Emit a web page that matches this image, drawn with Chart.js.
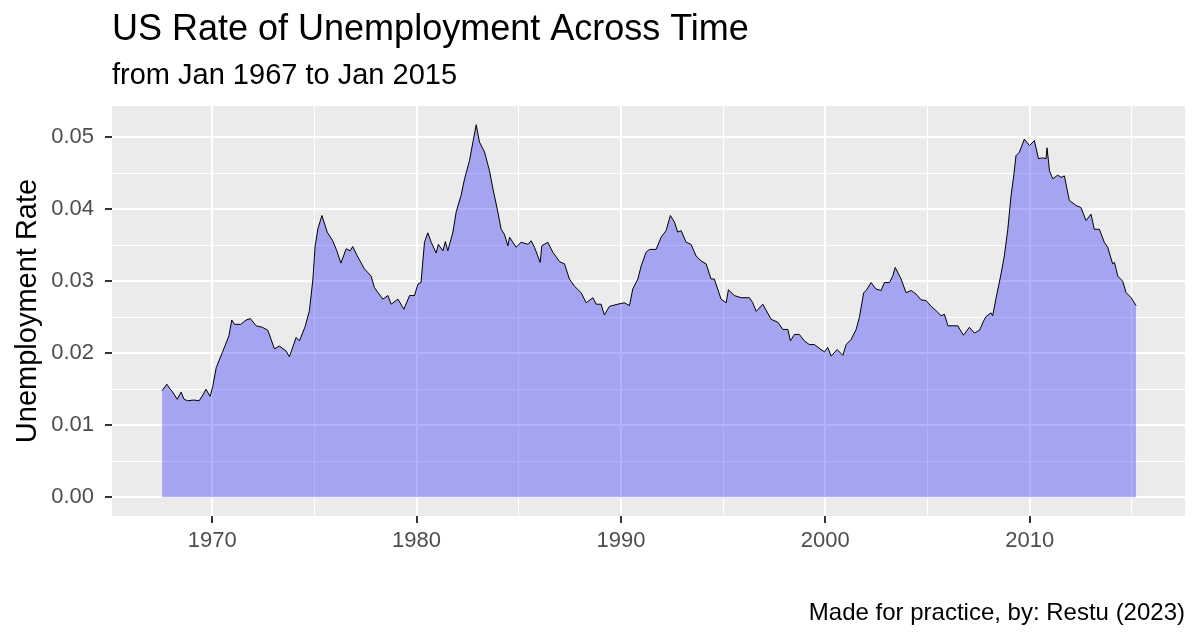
<!DOCTYPE html>
<html>
<head>
<meta charset="utf-8">
<script src="https://cdn.jsdelivr.net/npm/chart.js"></script>
<style>
  body { margin: 0; background: #fff; }
  #wrap { width: 1200px; height: 642px; }
</style>
</head>
<body>
<div id="wrap"><canvas id="myChart"></canvas></div>
<script>
// month position as decimal year
var years = [1967.55,1967.78,1967.95,1968.05,1968.29,1968.48,1968.63,1968.8,1969.1,1969.36,1969.55,1969.7,1969.9,
  1970.03,1970.2,1970.5,1970.82,1970.96,1971.1,1971.4,1971.66,1971.87,1972.15,1972.45,1972.72,1973.05,1973.29,1973.62,1973.78,
  1974.11,1974.27,1974.55,1974.76,1974.93,1975.04,1975.17,1975.37,1975.63,1975.9,1976.1,1976.3,1976.56,1976.75,1976.88,
  1977.1,1977.45,1977.78,1977.94,1978.35,1978.6,1978.76,1979.09,1979.38,1979.66,1979.9,
  1980.07,1980.22,1980.39,1980.55,1980.72,1980.96,1981.07,1981.29,1981.41,1981.53,1981.78,1981.94,1982.18,1982.35,1982.59,1982.76,1982.92,
  1983.08,1983.33,1983.57,1983.74,1983.98,1984.14,1984.3,1984.47,1984.55,1984.87,1985.12,1985.45,1985.61,1985.77,1986.05,1986.13,1986.42,1986.67,
  1987.0,1987.24,1987.48,1987.73,1988.05,1988.3,1988.63,1988.79,1989.03,1989.19,1989.44,1989.85,
  1990.17,1990.42,1990.58,1990.83,1990.99,1991.23,1991.4,1991.72,1991.97,1992.21,1992.42,1992.62,1992.78,1992.95,
  1993.19,1993.43,1993.68,1993.92,1994.17,1994.41,1994.57,1994.9,1995.15,1995.26,1995.55,1995.88,1996.29,1996.45,1996.62,1996.94,
  1997.35,1997.68,1997.92,1998.17,1998.29,1998.49,1998.73,1998.98,1999.22,1999.47,1999.79,1999.96,
  2000.12,2000.29,2000.58,2000.86,2001.02,2001.26,2001.51,2001.67,2001.88,2002.0,2002.24,2002.48,2002.73,2002.89,
  2003.14,2003.3,2003.42,2003.71,2003.95,2004.2,2004.44,2004.69,2004.93,2005.18,2005.42,2005.67,2005.83,2006.0,2006.24,2006.48,2006.76,
  2007.05,2007.3,2007.55,2007.75,2007.87,2008.11,2008.19,2008.36,2008.6,2008.76,2008.93,2009.09,2009.22,2009.33,2009.5,2009.74,2009.99,
  2010.23,2010.43,2010.64,2010.8,2010.85,2010.97,2011.13,2011.37,2011.54,2011.7,2011.94,2012.27,2012.51,2012.76,
  2013.0,2013.16,2013.41,2013.65,2013.82,2014.06,2014.15,2014.31,2014.55,2014.72,2014.96,2015.21];

// unemployed / population
var rates = [0.0148,0.0157,0.0150,0.0147,0.0136,0.0146,0.0136,0.0134,0.0135,0.0134,0.0142,0.0150,0.0140,
  0.0154,0.0180,0.0201,0.0224,0.0246,0.0240,0.0240,0.0246,0.0248,0.0238,0.0236,0.0232,0.0206,0.0210,0.0203,0.0195,
  0.0222,0.0217,0.0237,0.0259,0.0303,0.0349,0.0372,0.0391,0.0368,0.0356,0.0342,0.0325,0.0345,0.0342,0.0348,
  0.0335,0.0317,0.0307,0.0291,0.0275,0.0280,0.0268,0.0275,0.0261,0.0280,0.0280,
  0.0296,0.0298,0.0354,0.0367,0.0354,0.0339,0.0351,0.0342,0.0355,0.0342,0.0368,0.0396,0.0419,0.0442,0.0467,0.0493,0.0517,
  0.0493,0.0479,0.0453,0.0428,0.0396,0.0372,0.0365,0.0349,0.0361,0.0347,0.0354,0.0351,0.0356,0.0347,0.0326,0.0349,0.0354,0.0340,
  0.0327,0.0324,0.0303,0.0293,0.0284,0.0270,0.0277,0.0268,0.0268,0.0253,0.0265,0.0268,
  0.0270,0.0266,0.0289,0.0303,0.0321,0.0340,0.0344,0.0344,0.0361,0.0370,0.0391,0.0382,0.0368,0.0370,
  0.0354,0.0351,0.0335,0.0328,0.0324,0.0303,0.0303,0.0275,0.0270,0.0288,0.0280,0.0277,0.0277,0.0270,0.0258,0.0268,
  0.0247,0.0243,0.0233,0.0233,0.0217,0.0226,0.0226,0.0217,0.0212,0.0212,0.0205,0.0202,
  0.0208,0.0196,0.0205,0.0197,0.0212,0.0219,0.0233,0.0250,0.0284,0.0287,0.0298,0.0289,0.0287,0.0298,
  0.0298,0.0307,0.0319,0.0303,0.0284,0.0287,0.0282,0.0274,0.0273,0.0265,0.0259,0.0252,0.0254,0.0238,0.0238,0.0238,0.0225,
  0.0236,0.0228,0.0232,0.0245,0.0251,0.0256,0.0252,0.0277,0.0310,0.0335,0.0372,0.0419,0.0446,0.0474,0.0479,0.0497,0.0488,
  0.0495,0.0470,0.0471,0.0470,0.0485,0.0453,0.0442,0.0447,0.0444,0.0446,0.0412,0.0405,0.0402,0.0384,
  0.0393,0.0372,0.0372,0.0354,0.0347,0.0324,0.0326,0.0307,0.0300,0.0284,0.0277,0.0266];

var points = years.map(function (y, i) { return { x: y, y: rates[i] }; });

var font = "'Liberation Sans', Arial, sans-serif";

// grey panel behind the grid
var panelBg = {
  id: "panelBg",
  beforeDraw: function (chart) {
    var a = chart.chartArea, ctx = chart.ctx;
    ctx.save();
    ctx.fillStyle = "#EBEBEB";
    ctx.fillRect(a.left, a.top, a.right - a.left, a.bottom - a.top);
    ctx.restore();
  }
};

function isMajorX(v) { return Math.round(v) % 10 === 0; }
function isMajorY(v) { return Math.round(v * 1000) % 10 === 0; }

new Chart("myChart", {
  type: "line",
  data: {
    datasets: [{
      data: points,
      borderColor: "#000000",
      borderWidth: 1,
      backgroundColor: "rgba(0,0,255,0.3)",
      fill: "origin",
      pointRadius: 0,
      tension: 0
    }]
  },
  options: {
    responsive: true,
    maintainAspectRatio: false,
    animation: false,
    layout: { padding: { left: 0, right: 15, top: 0, bottom: 0 } },
    plugins: {
      legend: { display: false },
      tooltip: { enabled: false },
      title: {
        display: true,
        text: "US Rate of Unemployment Across Time",
        align: "start",
        fullSize: false,
        color: "#000",
        font: { family: font, size: 36, weight: "normal", lineHeight: 1.2 },
        padding: { top: 8, bottom: 0 }
      },
      subtitle: {
        display: true,
        text: "from Jan 1967 to Jan 2015",
        align: "start",
        fullSize: false,
        color: "#000",
        font: { family: font, size: 29, weight: "normal", lineHeight: 1.2 },
        padding: { top: 7, bottom: 13 }
      }
    },
    scales: {
      x: {
        type: "linear",
        min: 1965.1,
        max: 2017.6,
        afterFit: function (s) { s.height = 126; },
        border: { display: false },
        grid: {
          color: "#FFFFFF",
          lineWidth: function (c) { return isMajorX(c.tick.value) ? 2 : 1; },
          tickLength: 7,
          tickColor: function (c) { return isMajorX(c.tick.value) ? "#333333" : "rgba(0,0,0,0)"; },
          tickWidth: 2
        },
        ticks: {
          stepSize: 5,
          includeBounds: false,
          autoSkip: false,
          maxRotation: 0,
          padding: 5,
          color: "#4D4D4D",
          font: { family: font, size: 22 },
          callback: function (v) { return isMajorX(v) ? String(Math.round(v)) : ""; }
        },
        title: {
          display: true,
          text: "Made for practice, by: Restu (2023)",
          align: "end",
          color: "#000",
          font: { family: font, size: 24 },
          padding: { top: 0, bottom: 14 }
        }
      },
      y: {
        min: -0.00259,
        max: 0.0543,
        afterFit: function (s) { s.width = 112; },
        border: { display: false },
        grid: {
          color: "#FFFFFF",
          lineWidth: function (c) { return isMajorY(c.tick.value) ? 2 : 1; },
          tickLength: 7,
          tickColor: function (c) { return isMajorY(c.tick.value) ? "#333333" : "rgba(0,0,0,0)"; },
          tickWidth: 2
        },
        ticks: {
          stepSize: 0.005,
          includeBounds: false,
          autoSkip: false,
          padding: 11,
          color: "#4D4D4D",
          font: { family: font, size: 22 },
          callback: function (v) { return isMajorY(v) ? v.toFixed(2) : ""; }
        },
        title: {
          display: true,
          text: "Unemployment Rate",
          color: "#000",
          font: { family: font, size: 29 },
          padding: { top: 11, bottom: 0 }
        }
      }
    }
  },
  plugins: [panelBg]
});
</script>
</body>
</html>
